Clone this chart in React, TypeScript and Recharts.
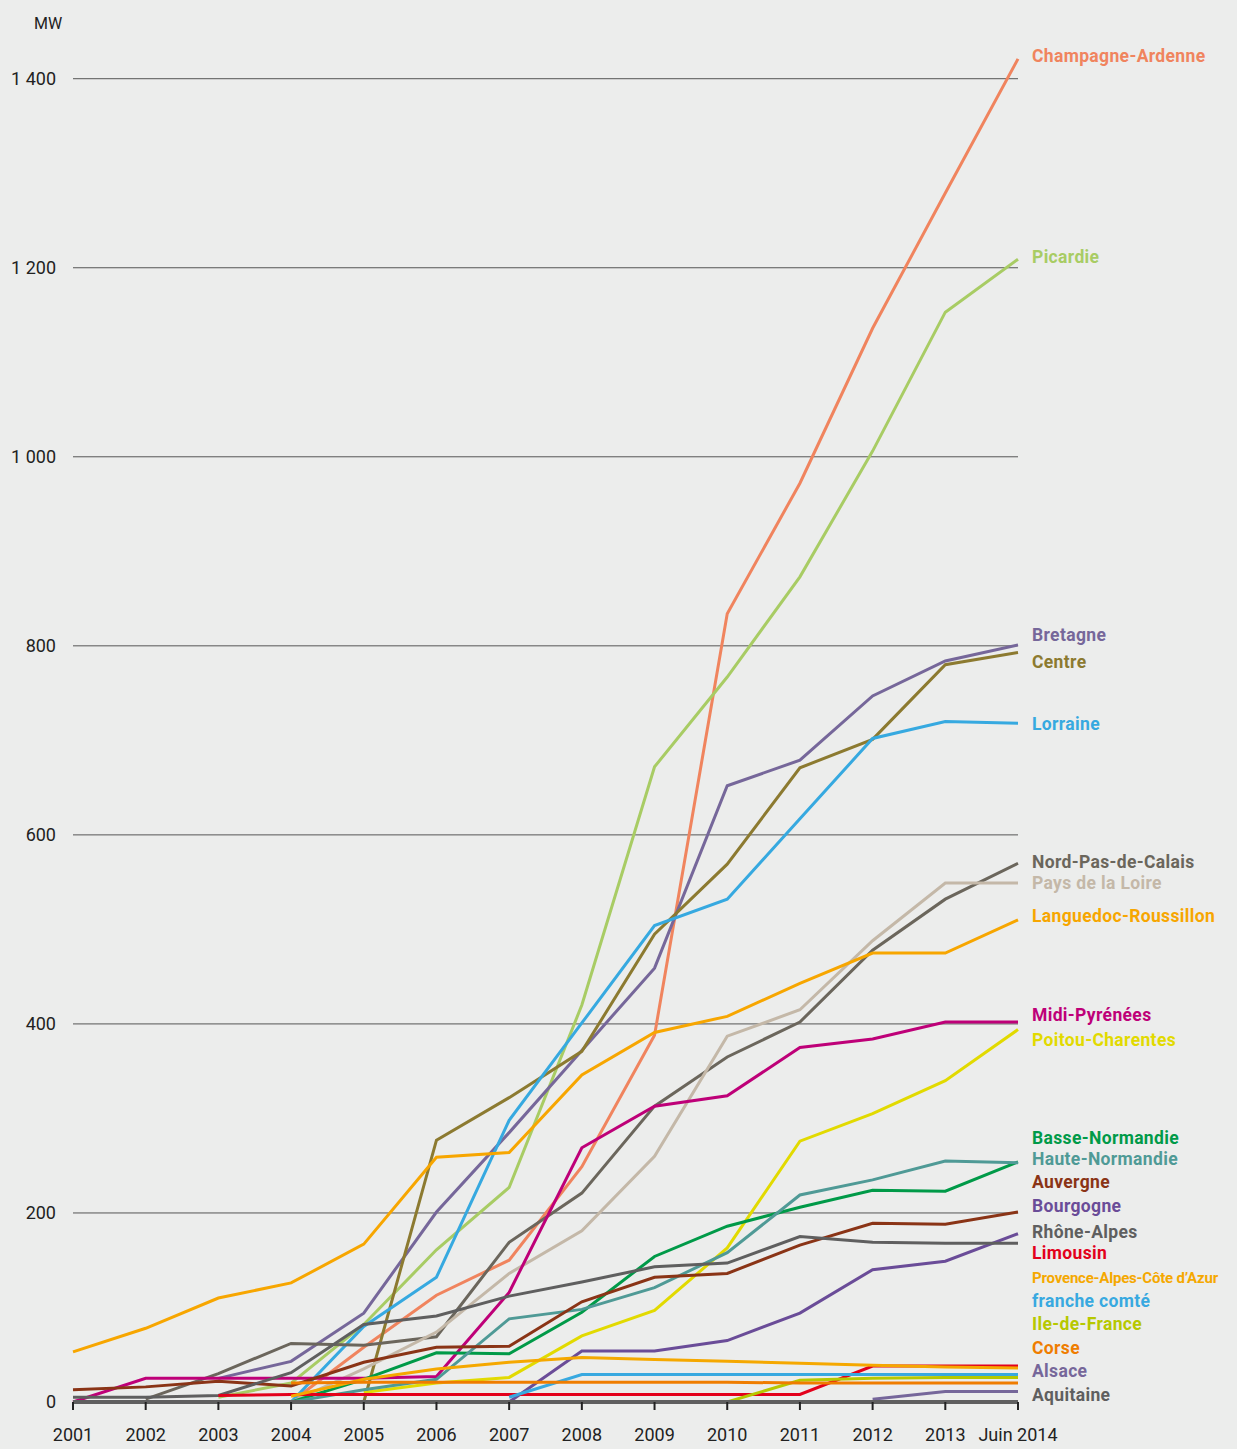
import { CartesianGrid, Line, LineChart, ReferenceDot, XAxis, YAxis } from "recharts";

const years = ["2001", "2002", "2003", "2004", "2005", "2006", "2007", "2008", "2009", "2010", "2011", "2012", "2013", "Juin 2014"];

// MW installés par région (null = pas encore de parc)
const champagneArdenne = [null, null, null, 0, 58, 113, 150, 249, 388, 834, 972, 1136, 1279, 1421];
const picardie = [null, null, 5, 20, 82, 161, 227, 420, 672, 767, 873, 1006, 1153, 1209];
const bretagne = [null, null, 25, 43, 94, 201, 285, 372, 459, 652, 679, 747, 784, 801];
const centre = [null, null, null, null, 0, 277, 322, 371, 495, 569, 671, 701, 780, 793];
const lorraine = [null, null, null, 0, 80, 132, 298, 401, 504, 532, 617, 702, 720, 718];
const nordPasDeCalais = [null, 3, 30, 62, 60, 69, 169, 221, 313, 365, 402, 478, 532, 570];
const paysDeLaLoire = [null, null, null, 0, 35, 74, 136, 181, 260, 387, 415, 488, 549, 549];
const languedocRoussillon = [53, 78, 110, 126, 167, 259, 264, 346, 391, 408, 443, 475, 475, 510];
const midiPyrenees = [0, 25, 25, 25, 25, 27, 116, 269, 313, 324, 375, 384, 402, 402];
const poitouCharentes = [null, null, null, null, 10, 20, 26, 70, 97, 163, 276, 305, 340, 394];
const basseNormandie = [null, null, null, 0, 24, 52, 51, 95, 154, 186, 206, 224, 223, 254];
const hauteNormandie = [null, null, null, 0, 13, 24, 88, 98, 121, 158, 219, 235, 255, 253];
const auvergne = [13, 16, 22, 17, 42, 58, 59, 106, 132, 136, 166, 189, 188, 201];
const bourgogne = [null, null, null, null, null, null, 0, 54, 54, 65, 94, 140, 149, 178];
const rhoneAlpes = [5, 5, 7, 31, 82, 91, 112, 127, 143, 147, 175, 169, 168, 168];
const limousin = [null, null, 7, 8, 8, 8, 8, 8, 8, 8, 8, 38, 38, 38];
const paca = [null, null, null, 6, 24, 35, 42, 47, 45, 43, 41, 39, 37, 36];
const francheComte = [null, null, null, null, null, null, 5, 29, 29, 29, 29, 29, 29, 29];
const ileDeFrance = [null, null, null, null, null, null, null, null, null, 0, 23, 25, 26, 26];
const corse = [null, null, null, 20, 21, 21, 21, 21, 21, 21, 20, 20, 20, 20];
const alsace = [null, null, null, null, null, null, null, null, null, null, null, 3, 11, 11];
const aquitaine = [0, 0, 0, 0, 0, 0, 0, 0, 0, 0, 0, 0, 0, 0];

const yTicks = [0, 200, 400, 600, 800, 1000, 1200, 1400];
const gridValues = [200, 400, 600, 800, 1000, 1200, 1400];

const regions = [
  { key: "champagne", name: "Champagne-Ardenne", color: "#F0845E", values: champagneArdenne },
  { key: "picardie", name: "Picardie", color: "#A8CC64", values: picardie },
  { key: "bretagne", name: "Bretagne", color: "#76679A", values: bretagne },
  { key: "centre", name: "Centre", color: "#8C7A30", values: centre },
  { key: "lorraine", name: "Lorraine", color: "#36A9E0", values: lorraine },
  { key: "nord", name: "Nord-Pas-de-Calais", color: "#6B665C", values: nordPasDeCalais },
  { key: "loire", name: "Pays de la Loire", color: "#C4B8A8", values: paysDeLaLoire },
  { key: "languedoc", name: "Languedoc-Roussillon", color: "#F7A600", values: languedocRoussillon },
  { key: "midi", name: "Midi-Pyrénées", color: "#BE0078", values: midiPyrenees },
  { key: "poitou", name: "Poitou-Charentes", color: "#E2DA00", values: poitouCharentes },
  { key: "basse", name: "Basse-Normandie", color: "#009A48", values: basseNormandie },
  { key: "haute", name: "Haute-Normandie", color: "#4F9A96", values: hauteNormandie },
  { key: "auvergne", name: "Auvergne", color: "#8A3416", values: auvergne },
  { key: "bourgogne", name: "Bourgogne", color: "#6A4C98", values: bourgogne },
  { key: "rhone", name: "Rhône-Alpes", color: "#5F5F5F", values: rhoneAlpes },
  { key: "limousin", name: "Limousin", color: "#E3001B", values: limousin },
  { key: "paca", name: "Provence-Alpes-Côte d’Azur", color: "#F5A800", values: paca },
  { key: "franche", name: "franche comté", color: "#38A9E0", values: francheComte },
  { key: "idf", name: "Ile-de-France", color: "#B6C800", values: ileDeFrance },
  { key: "corse", name: "Corse", color: "#EF7D00", values: corse },
  { key: "alsace", name: "Alsace", color: "#76679A", values: alsace },
  { key: "aquitaine", name: "Aquitaine", color: "#5F5F5F", values: aquitaine },
];

// where each name sits on the right (MW), spread out so they don't overlap
const labelAt = [1424, 1211, 812, 783, 717, 571, 549, 514, 410, 383, 279, 257, 233, 207, 180, 158, 131, 107, 83, 57, 33, 8];

const data = years.map((year, i) => {
  const row: Record<string, string | number | null> = { year };
  regions.forEach((r) => {
    row[r.key] = r.values[i];
  });
  return row;
});

function formatMW(value: number): string {
  if (value >= 1000) {
    return `${Math.floor(value / 1000)} ${String(value % 1000).padStart(3, "0")}`;
  }
  return `${value}`;
}

function RegionLabel({ viewBox, name, color }: { viewBox?: { x: number; y: number }; name: string; color: string }) {
  if (!viewBox) return null;
  // the long PACA name is set tighter so it stays inside the page, as in the original
  const long = name.startsWith("Provence");
  return (
    <text
      x={viewBox.x + 14}
      y={viewBox.y}
      dy="0.35em"
      fill={color}
      fontSize={long ? 15 : 17.5}
      fontWeight={700}
      letterSpacing={long ? -0.2 : 0.35}
    >
      {name}
    </text>
  );
}

export default function App() {
  return (
    <div style={{ position: "absolute", left: 0, top: 0, width: 1237, height: 1449, background: "#ECEDEC", fontFamily: "Roboto, sans-serif" }}>
      <div style={{ position: "absolute", left: 34, top: 14, fontSize: 16, color: "#222" }}>MW</div>
      <LineChart width={1237} height={1449} data={data} margin={{ top: 22, right: 219, left: 0, bottom: 0 }} style={{ fontFamily: "Roboto, sans-serif" }}>
        <CartesianGrid vertical={false} horizontalValues={gridValues} stroke="#555" strokeWidth={1} />
        <XAxis
          dataKey="year"
          interval={0}
          height={47}
          tickSize={8}
          tickMargin={18}
          tick={{ fill: "#222", fontSize: 18 }}
          axisLine={{ stroke: "#5F5F5F", strokeWidth: 4 }}
          tickLine={{ stroke: "#222", strokeWidth: 2 }}
        />
        <YAxis
          width={73}
          domain={[0, 1460]}
          ticks={yTicks}
          tickFormatter={formatMW}
          axisLine={false}
          tickLine={false}
          tickSize={0}
          tickMargin={17}
          tick={{ fill: "#222", fontSize: 18 }}
        />
        {regions.map((r) => (
          <Line
            key={r.key}
            dataKey={r.key}
            stroke={r.color}
            strokeWidth={r.key === "aquitaine" ? 4 : 3}
            dot={false}
            activeDot={false}
            isAnimationActive={false}
          />
        ))}
        {regions.map((r, i) => (
          <ReferenceDot
            key={`label-${r.key}`}
            x="Juin 2014"
            y={labelAt[i]}
            r={0}
            fill="none"
            stroke="none"
            label={{ content: (p: any) => <RegionLabel viewBox={p.viewBox} name={r.name} color={r.color} /> }}
          />
        ))}
      </LineChart>
    </div>
  );
}
